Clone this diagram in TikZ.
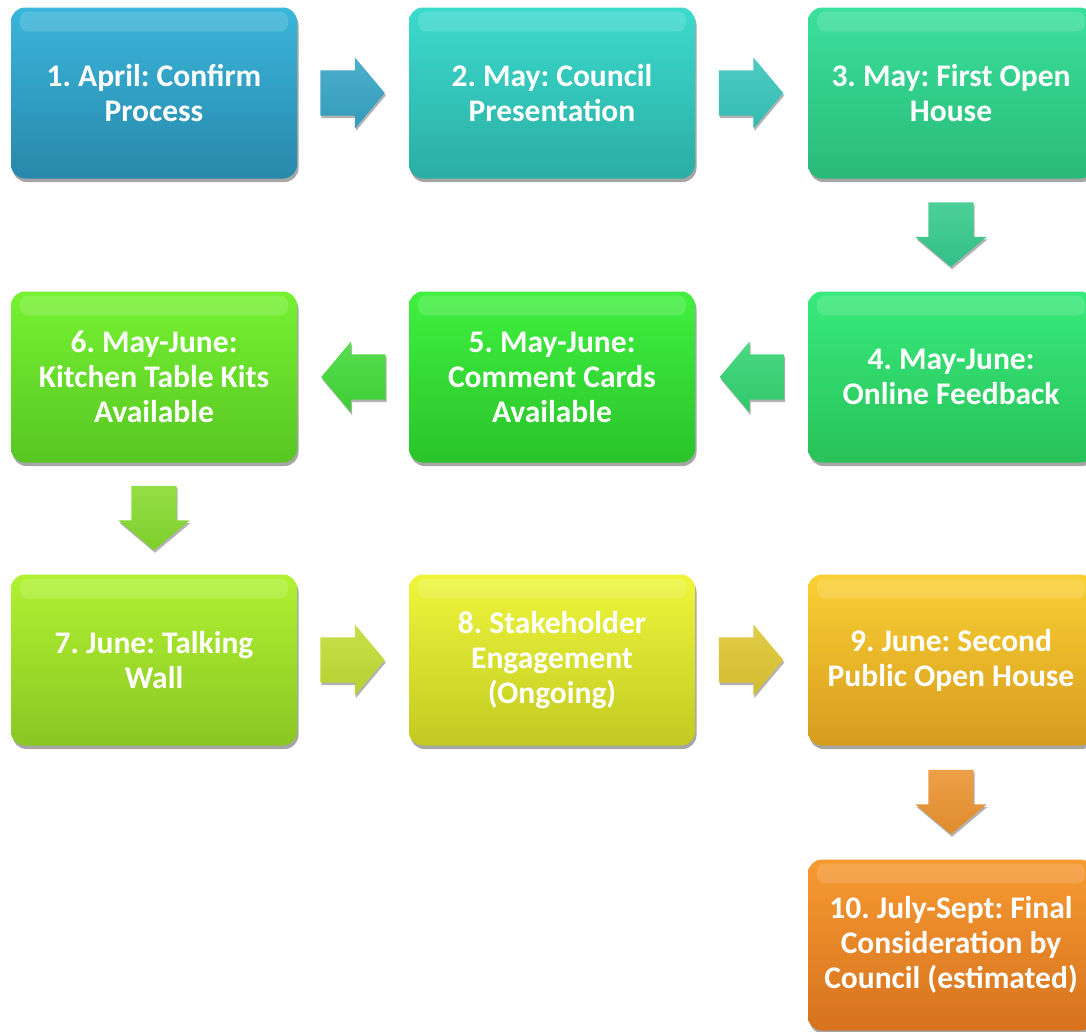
\documentclass[tikz,border=0pt]{standalone}
\usepackage{fontspec}
\setmainfont{Carlito}
\frenchspacing
\usetikzlibrary{shapes.arrows,shadows,calc}
\definecolor{boxAt}{HTML}{3AB6DA}\definecolor{boxAb}{HTML}{2888AB}
\definecolor{boxBt}{HTML}{3CDACE}\definecolor{boxBb}{HTML}{2BAEA4}
\definecolor{boxCt}{HTML}{3AE09C}\definecolor{boxCb}{HTML}{2ABA78}
\definecolor{boxDt}{HTML}{38EA7C}\definecolor{boxDb}{HTML}{28C258}
\definecolor{boxEt}{HTML}{40F040}\definecolor{boxEb}{HTML}{2AC42A}
\definecolor{boxFt}{HTML}{76F232}\definecolor{boxFb}{HTML}{58C622}
\definecolor{boxGt}{HTML}{B0F232}\definecolor{boxGb}{HTML}{8AC622}
\definecolor{boxHt}{HTML}{EEF63C}\definecolor{boxHb}{HTML}{C2CA22}
\definecolor{boxIt}{HTML}{FAD034}\definecolor{boxIb}{HTML}{D69C1E}
\definecolor{boxJt}{HTML}{F79A32}\definecolor{boxJb}{HTML}{D6721E}
\tikzset{
  stage/.style 2 args={rounded corners=14pt, minimum width=286pt, minimum height=171pt,
    inner sep=0pt, align=center, text=white,
    font=\fontsize{31.5}{35}\selectfont\bfseries,
    top color=#1, bottom color=#2,
    drop shadow={shadow xshift=1.5pt, shadow yshift=-3.5pt, opacity=.35, fill=black},
    path picture={\fill[white,opacity=.14,rounded corners=8pt]
      ([xshift=9pt,yshift=-4pt]path picture bounding box.north west) rectangle
      ([xshift=-9pt,yshift=-24pt]path picture bounding box.north east);}},
  flow/.style 2 args={single arrow, shape border rotate=#1, minimum height=62pt,
    inner sep=22.5pt, single arrow head extend=13pt, single arrow tip angle=100,
    shift={({#1+180}:10pt)}, top color=#2!88!white, bottom color=#2!95!black, draw=none,
    drop shadow={shadow xshift=1pt, shadow yshift=-2.5pt, opacity=.3, fill=black}}
}
\begin{document}
\begin{tikzpicture}[x=1pt,y=-1pt]
\useasboundingbox (0,0) rectangle (1086,1031);
\clip (0,0) rectangle (1086,1031);
\node[stage={boxAt}{boxAb}] (b1) at (154,93) {1. April: Confirm\\Process};
\node[stage={boxBt}{boxBb}] (b2) at (552,93) {2. May: Council\\Presentation};
\node[stage={boxCt}{boxCb}] (b3) at (951,93) {3. May: First Open\\House};
\node[stage={boxDt}{boxDb}] (b4) at (951,377) {4. May-June:\\Online Feedback};
\node[stage={boxEt}{boxEb}] (b5) at (552,377) {5. May-June:\\Comment Cards\\Available};
\node[stage={boxFt}{boxFb}] (b6) at (154,377) {6. May-June:\\Kitchen Table Kits\\Available};
\node[stage={boxGt}{boxGb}] (b7) at (154,660) {7. June: Talking\\Wall};
\node[stage={boxHt}{boxHb}] (b8) at (552,660) {8. Stakeholder\\Engagement\\(Ongoing)};
\node[stage={boxIt}{boxIb}] (b9) at (951,660) {9. June: Second\\Public Open House};
\node[stage={boxJt}{boxJb}] (b10) at (951,945) {10. July-Sept: Final\\Consideration by\\Council (estimated)};
\node[flow={0}{boxAt!90!black}] (a12) at ($(b1.east)!.5!(b2.west)$) {};
\node[flow={0}{boxBt!90!black}] (a23) at ($(b2.east)!.5!(b3.west)$) {};
\node[flow={270}{boxCt!90!black}] (a34) at ($(b3.south)!.5!(b4.north)$) {};
\node[flow={180}{boxDt!90!black}] (a45) at ($(b4.west)!.5!(b5.east)$) {};
\node[flow={180}{boxEt!85!boxFt!90!black}] (a56) at ($(b5.west)!.5!(b6.east)$) {};
\node[flow={270}{boxFt!50!boxGt!90!black}] (a67) at ($(b6.south)!.5!(b7.north)$) {};
\node[flow={0}{boxGt!40!boxHt!90!black}] (a78) at ($(b7.east)!.5!(b8.west)$) {};
\node[flow={0}{boxHt!30!boxIt!90!black}] (a89) at ($(b8.east)!.5!(b9.west)$) {};
\node[flow={270}{boxJt!95!black}] (a910) at ($(b9.south)!.5!(b10.north)$) {};
\end{tikzpicture}
\end{document}
